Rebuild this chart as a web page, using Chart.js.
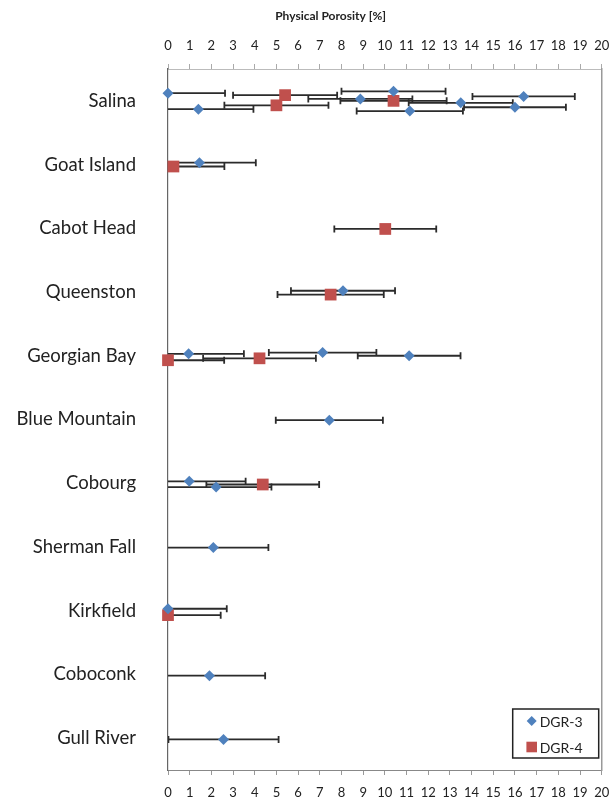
<!DOCTYPE html>
<html>
<head>
<meta charset="utf-8">
<title>Physical Porosity</title>
<script src="https://cdn.jsdelivr.net/npm/chart.js@4/dist/chart.umd.min.js"></script>
<style>
  body { margin: 0; background: #fff; }
  canvas { display: block; }
</style>
</head>
<body>
<canvas id="porosityChart" width="610" height="801"></canvas>
<script>
// formations, top to bottom (row 1 = Salina)
const formations = ["Salina", "Goat Island", "Cabot Head", "Queenston", "Georgian Bay",
  "Blue Mountain", "Cobourg", "Sherman Fall", "Kirkfield", "Coboconk", "Gull River"];

const porosityTicks = [0, 1, 2, 3, 4, 5, 6, 7, 8, 9, 10, 11, 12, 13, 14, 15, 16, 17, 18, 19, 20];

// DGR-3 samples: porosity [%], row (formation index + spread), error [%]
const dgr3Porosity = [0, 1.4, 8.87, 10.4, 11.15, 13.5, 16.0, 16.4,
  1.45, 8.07, 0.95, 7.13, 11.12, 7.44, 0.98, 2.22, 2.09, 0, 1.91, 2.56];
const dgr3Row = [0.88, 1.13, 0.97, 0.85, 1.16, 1.03, 1.10, 0.93,
  1.97, 3.98, 4.97, 4.95, 5.0, 6.01, 6.97, 7.06, 8.01, 8.97, 10.02, 11.02];
const dgr3Error = [2.63, 2.54, 2.4, 2.4, 2.45, 2.4, 2.35, 2.36,
  2.6, 2.4, 2.55, 2.48, 2.37, 2.47, 2.6, 2.55, 2.54, 2.71, 2.57, 2.54];

// DGR-4 samples
const dgr4Porosity = [5.0, 5.4, 10.4, 0.25, 10.02, 7.5, 0, 4.22, 4.37, 0];
const dgr4Row = [1.07, 0.91, 1.0, 2.03, 3.01, 4.04, 5.07, 5.04, 7.02, 9.07];
const dgr4Error = [2.4, 2.4, 2.45, 2.35, 2.35, 2.45, 2.59, 2.6, 2.6, 2.43];

const axisTitle = "Physical Porosity [%]";

const blue = "#4F81BD";
const red = "#C0504D";

function points(xs, ys) {
  return xs.map((v, i) => ({ x: v, y: ys[i] }));
}

const errors = [dgr3Error, dgr4Error];

// horizontal error bars with end caps, drawn under the markers
const errorBars = {
  id: "errorBars",
  beforeDatasetsDraw(chart) {
    const ctx = chart.ctx;
    const area = chart.chartArea;
    const xs = chart.scales.x;
    ctx.save();
    ctx.beginPath();
    ctx.rect(area.left, area.top - 10, area.right - area.left, area.bottom - area.top + 20);
    ctx.clip();
    ctx.strokeStyle = "#2b2b2b";
    ctx.lineWidth = 1.8;
    chart.data.datasets.forEach((ds, d) => {
      const meta = chart.getDatasetMeta(d);
      ds.data.forEach((p, i) => {
        const e = errors[d][i];
        const y = meta.data[i].y;
        const x0 = xs.getPixelForValue(p.x - e);
        const x1 = xs.getPixelForValue(p.x + e);
        ctx.beginPath();
        ctx.moveTo(x0, y);
        ctx.lineTo(x1, y);
        ctx.moveTo(x0, y - 3.5);
        ctx.lineTo(x0, y + 3.5);
        ctx.moveTo(x1, y - 3.5);
        ctx.lineTo(x1, y + 3.5);
        ctx.stroke();
      });
    });
    ctx.restore();
  }
};

// boxed legend in the lower right corner of the plot, plus the top axis title
const boxLegend = {
  id: "boxLegend",
  afterDraw(chart) {
    const ctx = chart.ctx;
    const area = chart.chartArea;
    const w = 86, h = 49;
    const left = area.right - 3 - w;
    const top = area.bottom - 12 - h;
    ctx.save();
    ctx.strokeStyle = "#222";
    ctx.lineWidth = 1.5;
    ctx.strokeRect(left, top, w, h);
    ctx.font = "14px Lato";
    ctx.textBaseline = "middle";
    chart.data.datasets.forEach((ds, i) => {
      const cy = top + 12 + i * 26;
      ctx.fillStyle = ds.backgroundColor;
      Chart.helpers.drawPoint(ctx, {
        pointStyle: ds.pointStyle,
        radius: ds.pointStyle === "rect" ? 7.5 : 5,
        borderWidth: 0
      }, left + 19, cy);
      ctx.fillStyle = "#222";
      ctx.fillText(ds.label, left + 27, cy + 1);
    });

    ctx.font = "bold 12px Lato";
    ctx.textAlign = "center";
    ctx.fillStyle = "#222";
    ctx.fillText(axisTitle, chart.scales.x2.getPixelForValue(7.5), 16);
    ctx.restore();
  }
};

const tickFont = { family: "Lato", size: 13 };

// fixed box sizes so label overflow does not shrink the plot
function fixSize(prop, size) {
  return (s) => {
    s[prop] = size;
    s.paddingLeft = 0;
    s.paddingRight = 0;
    s.paddingTop = 0;
    s.paddingBottom = 0;
  };
}

new Chart(document.getElementById("porosityChart"), {
  type: "scatter",
  data: {
    datasets: [
      {
        label: "DGR-3",
        data: points(dgr3Porosity, dgr3Row),
        pointStyle: "rectRot",
        pointRadius: 5.5,
        pointBorderWidth: 0,
        backgroundColor: blue,
        borderColor: blue,
        clip: false
      },
      {
        label: "DGR-4",
        data: points(dgr4Porosity, dgr4Row),
        pointStyle: "rect",
        pointRadius: 8.3,
        pointBorderWidth: 0,
        backgroundColor: red,
        borderColor: red,
        clip: false
      }
    ]
  },
  options: {
    responsive: false,
    animation: false,
    layout: { padding: 0 },
    plugins: {
      legend: { display: false },
      tooltip: { enabled: false }
    },
    scales: {
      x: {
        type: "linear",
        position: "bottom",
        min: 0,
        max: 20,
        afterBuildTicks: (s) => { s.ticks = porosityTicks.map(v => ({ value: v })); },
        ticks: { font: tickFont, color: "#222", padding: 10, maxRotation: 0 },
        grid: { drawOnChartArea: false, tickLength: 5, color: "#999" },
        border: { color: "#888" },
        afterFit: fixSize("height", 31)
      },
      x2: {
        type: "linear",
        position: "top",
        min: 0,
        max: 20,
        afterBuildTicks: (s) => { s.ticks = porosityTicks.map(v => ({ value: v })); },
        ticks: { font: tickFont, color: "#222", padding: 10, maxRotation: 0 },
        grid: { drawOnChartArea: false, tickLength: 5, color: "#aaa" },
        border: { color: "#bbb" },
        afterFit: fixSize("height", 69)
      },
      y: {
        type: "linear",
        reverse: true,
        min: 0.5,
        max: 11.5,
        afterBuildTicks: (s) => { s.ticks = formations.map((_, i) => ({ value: i + 1 })); },
        ticks: {
          font: { family: "Lato", size: 18.5 },
          color: "#222",
          padding: 32,
          callback: (v) => formations[v - 1]
        },
        grid: { drawOnChartArea: false, drawTicks: false },
        border: { color: "#666", width: 1.2 },
        afterFit: fixSize("width", 168)
      },
      y2: {
        type: "linear",
        position: "right",
        min: 0.5,
        max: 11.5,
        ticks: { display: false },
        grid: { drawOnChartArea: false, drawTicks: false },
        border: { color: "#999", width: 1.5 },
        afterFit: fixSize("width", 8)
      }
    }
  },
  plugins: [errorBars, boxLegend]
});
</script>
</body>
</html>
